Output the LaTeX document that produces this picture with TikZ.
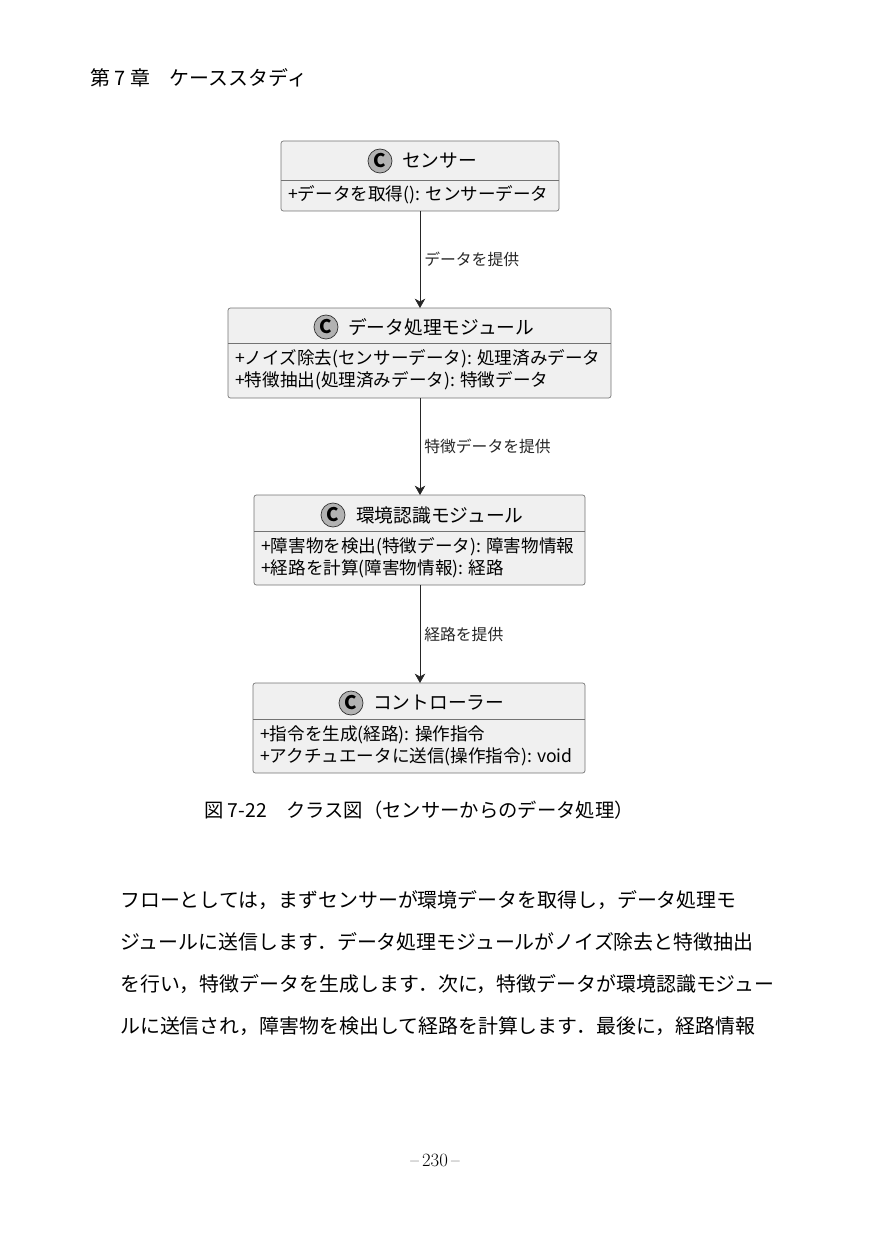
\documentclass[tikz,border=0pt]{standalone}
\usepackage{fontspec}
\usetikzlibrary{arrows.meta}
\setmainfont{Noto Sans CJK JP}
\newfontfamily\lmr{Latin Modern Roman}
\begin{document}
\begin{tikzpicture}[x=0.03cm,y=-0.03cm,
  cls/.style={draw=black!55,fill=black!6,rounded corners=2pt,line width=0.6pt},
  circ/.style={circle,draw=black!80,fill=black!30,inner sep=0pt,minimum size=0.72cm,font=\fontsize{16}{16}\selectfont\bfseries,line width=0.6pt},
  ttl/.style={font=\fontsize{16}{18}\selectfont,anchor=west},
  mem/.style={font=\fontsize{15}{19}\selectfont,anchor=north west,align=left,inner sep=0pt},
  arr/.style={-{Stealth[length=8pt,width=9pt,inset=2.5pt]},line width=0.6pt,black!85},
  lab/.style={font=\fontsize{13.5}{15}\selectfont,anchor=west},
  body/.style={font=\fontsize{17}{19}\selectfont,anchor=west,inner sep=0pt}]
\useasboundingbox (0,0) rectangle (870,1239);
\node[body] (hdr) at (90,78) {第 7 章\quad ケーススタディ};
% class 1
\draw[cls] (281,141) rectangle (559,211);
\draw[black!55,line width=0.6pt] (281,180) -- (559,180);
\node[circ] (c1) at (380,161) {C};
\node[ttl] (t1) at (398,161) {センサー};
\node[mem] (m1) at (288,185) {+データを取得(): センサーデータ};
\coordinate (b1) at (420,211);
\coordinate (a2) at (420,308);
% class 2
\draw[cls] (228,308) rectangle (611,398);
\draw[black!55,line width=0.6pt] (228,343) -- (611,343);
\node[circ] (c2) at (326,327) {C};
\node[ttl] (t2) at (344,327) {データ処理モジュール};
\node[mem] (m2) at (235,349) {+ノイズ除去(センサーデータ): 処理済みデータ\\+特徴抽出(処理済みデータ): 特徴データ};
\coordinate (b2) at (420,398);
\coordinate (a3) at (420,495);
% class 3
\draw[cls] (254,495) rectangle (585,585);
\draw[black!55,line width=0.6pt] (254,531) -- (585,531);
\node[circ] (c3) at (333,515) {C};
\node[ttl] (t3) at (352,515) {環境認識モジュール};
\node[mem] (m3) at (261,537) {+障害物を検出(特徴データ): 障害物情報\\+経路を計算(障害物情報): 経路};
\coordinate (b3) at (420,585);
\coordinate (a4) at (420,683);
% class 4
\draw[cls] (253,683) rectangle (585,773);
\draw[black!55,line width=0.6pt] (253,719) -- (585,719);
\node[circ] (c4) at (351,703) {C};
\node[ttl] (t4) at (369,703) {コントローラー};
\node[mem] (m4) at (260,725) {+指令を生成(経路): 操作指令\\+アクチュエータに送信(操作指令): void};
% arrows
\draw[arr] (b1) -- node[lab,pos=0.5] (l1) {データを提供} (a2);
\draw[arr] (b2) -- node[lab,pos=0.5] (l2) {特徴データを提供} (a3);
\draw[arr] (b3) -- node[lab,pos=0.5] (l3) {経路を提供} (a4);
% caption
\node[font=\fontsize{16.5}{18}\selectfont] (cap) at (419,810) {図 7-22\quad クラス図（センサーからのデータ処理）};
% body text
\node[body] (p1) at (120,900) {フローとしては，まずセンサーが環境データを取得し，データ処理モ};
\node[body] (p2) at (120,942) {ジュールに送信します．データ処理モジュールがノイズ除去と特徴抽出};
\node[body] (p3) at (120,984) {を行い，特徴データを生成します．次に，特徴データが環境認識モジュー};
\node[body] (p4) at (120,1026) {ルに送信され，障害物を検出して経路を計算します．最後に，経路情報};
\node[font=\lmr\fontsize{16}{18}\selectfont] (pg) at (435,1160) {–\,230\,–};
\end{tikzpicture}
\end{document}
